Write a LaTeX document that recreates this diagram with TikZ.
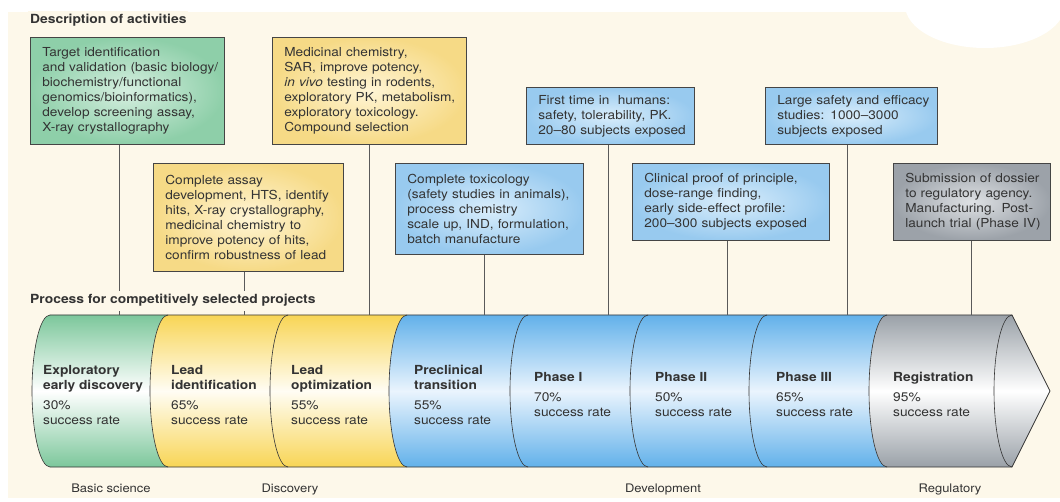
\documentclass[tikz,border=0pt]{standalone}
\usepackage{fontspec}
\setmainfont{TeX Gyre Heros}[FakeStretch=1.1]
\definecolor{cream}{HTML}{FDF8EA}
\definecolor{txt}{HTML}{333333}
\definecolor{boxline}{HTML}{454545}
\definecolor{connc}{HTML}{5A5A5A}
\definecolor{cylline}{HTML}{333333}
\definecolor{gin}{HTML}{D6EFE0}
\definecolor{gout}{HTML}{8ECFA9}
\definecolor{yin}{HTML}{FFF5D5}
\definecolor{yout}{HTML}{F6DA86}
\definecolor{bin}{HTML}{D9EDFB}
\definecolor{bout}{HTML}{98CAEF}
\definecolor{rin}{HTML}{DEE1E4}
\definecolor{rout}{HTML}{9CA2A9}
\definecolor{sgreen}{HTML}{7CC79B}
\definecolor{sgreenm}{HTML}{FFFFFF}
\definecolor{syellow}{HTML}{F8D555}
\definecolor{syellowm}{HTML}{FFFDF4}
\definecolor{sblue}{HTML}{62B1EA}
\definecolor{sbluem}{HTML}{EAF4FD}
\definecolor{sgrey}{HTML}{9AA1A8}
\begin{document}
\begin{tikzpicture}[x=1pt,y=1pt,
  box/.style={draw=boxline, line width=0.7pt, anchor=north west, inner xsep=12pt, inner ysep=0pt, align=left, text=txt, font=\fontsize{12.4}{15}\selectfont},
  gbox/.style={box, inner color=gin, outer color=gout},
  ybox/.style={box, inner color=yin, outer color=yout},
  bbox/.style={box, inner color=bin, outer color=bout},
  rbox/.style={box, inner color=rin, outer color=rout},
  conn/.style={draw=connc, line width=0.9pt},
  seglab/.style={anchor=north west, inner sep=0pt, align=left, text=txt, font=\fontsize{12.5}{15}\selectfont},
  head/.style={anchor=base west, inner xsep=2pt, inner ysep=4pt, fill=cream, text=txt, font=\bfseries\fontsize{12.6}{15}\selectfont},
  stage/.style={anchor=base, inner sep=0pt, text=txt, font=\fontsize{11.8}{14}\selectfont},
  outline/.style={draw=cylline, line width=0.8pt},
  sep/.style={draw=cylline, line width=0.6pt}
]
\useasboundingbox (0,0) rectangle (1060,501);
% background
\fill[white] (0,0) rectangle (1060,501);
\begin{scope}
\clip (0,0) rectangle (1060,501);
\fill[cream] (8,3) rectangle (1060,489);
\fill[white] (985,496) ellipse [x radius=80pt, y radius=43pt];
\end{scope}

% cylinder segments
\foreach \a/\b/\c/\m in {50/168/sgreen/sgreenm,168/288/syellow/syellowm,288/407/syellow/syellowm,407/528/sblue/sbluem,528/648/sblue/sbluem,648/767/sblue/sbluem,767/887/sblue/sbluem}{
  \shade[top color=\c, bottom color=\c, middle color=\m]
    (\a,186) -- (\b,186) arc[start angle=90,end angle=270,x radius=18pt,y radius=76pt]
    -- (\a,34) arc[start angle=270,end angle=90,x radius=18pt,y radius=76pt] -- cycle;
}
\shade[top color=sgrey, bottom color=sgrey, middle color=white]
  (887,186) -- (1012,186) -- (1050,110) -- (1012,34) -- (887,34)
  arc[start angle=270,end angle=90,x radius=18pt,y radius=76pt] -- cycle;
\draw[outline] (50,186) -- (1012,186) -- (1050,110) -- (1012,34) -- (50,34);
\foreach \a in {50,168,288,407,528,648,767,887,1012}{
  \draw[sep] (\a,186) arc[start angle=90,end angle=270,x radius=18pt,y radius=76pt];
}
\coordinate (ct) at (0,186);

% segment labels
\node[seglab] (s1) at (43,136) {\textbf{Exploratory}\\\textbf{early discovery}\\[5pt]30\%\\success rate};
\node[seglab] (s2) at (171,136) {\textbf{Lead}\\\textbf{identification}\\[5pt]65\%\\success rate};
\node[seglab] (s3) at (291,136) {\textbf{Lead}\\\textbf{optimization}\\[5pt]55\%\\success rate};
\node[seglab] (s4) at (414,136) {\textbf{Preclinical}\\\textbf{transition}\\[5pt]55\%\\success rate};
\node[seglab] (s5) at (534,129) {\textbf{Phase I}\\[5pt]70\%\\success rate};
\node[seglab] (s6) at (655,129) {\textbf{Phase II}\\[5pt]50\%\\success rate};
\node[seglab] (s7) at (776,129) {\textbf{Phase III}\\[5pt]65\%\\success rate};
\node[seglab] (s8) at (893,129) {\textbf{Registration}\\[5pt]95\%\\success rate};

% stage labels
\node[stage] (st1) at (111,9) {Basic science};
\node[stage] (st2) at (290,9) {Discovery};
\node[stage] (st3) at (663,9) {Development};
\node[stage] (st4) at (950,9) {Regulatory};

% activity boxes
\node[gbox, text width=170pt, minimum height=107pt] (b1) at (30,464) {\mbox{Target identification}\\\mbox{and validation (basic biology/}\\\mbox{biochemistry/functional}\\\mbox{genomics/bioinformatics),}\\\mbox{develop screening assay,}\\\mbox{X-ray crystallography}};
\node[ybox, text width=166pt, minimum height=108pt] (b2) at (153,338) {\mbox{Complete assay}\\\mbox{development, HTS, identify}\\\mbox{hits, X-ray crystallography,}\\\mbox{medicinal chemistry to}\\\mbox{improve potency of hits,}\\\mbox{confirm robustness of lead}};
\node[ybox, text width=170pt, minimum height=107pt] (b3) at (272,464) {\mbox{Medicinal chemistry,}\\\mbox{SAR, improve potency,}\\\mbox{\textit{in vivo} testing in rodents,}\\\mbox{exploratory PK, metabolism,}\\\mbox{exploratory toxicology.}\\\mbox{Compound selection}};
\node[bbox, text width=164pt, minimum height=91pt] (b4) at (395,338) {\mbox{Complete toxicology}\\\mbox{(safety studies in animals),}\\\mbox{process chemistry}\\\mbox{scale up, IND, formulation,}\\\mbox{batch manufacture}};
\node[bbox, text width=144pt, minimum height=57pt] (b5) at (526,414) {\mbox{First time in\ \ humans:}\\\mbox{safety, tolerability, PK.}\\\mbox{20–80 subjects exposed}};
\node[bbox, text width=173pt, minimum height=77pt] (b6) at (632,338) {\mbox{Clinical proof of principle,}\\\mbox{dose-range finding,}\\\mbox{early side-effect profile:}\\\mbox{200–300 subjects exposed}};
\node[bbox, text width=148pt, minimum height=57pt] (b7) at (765,414) {\mbox{Large safety and efficacy}\\\mbox{studies: 1000–3000}\\\mbox{subjects exposed}};
\node[rbox, text width=133pt, minimum height=77pt] (b8) at (893,338) {\mbox{Submission of dossier}\\\mbox{to regulatory agency.}\\\mbox{Manufacturing. Post-}\\\mbox{launch trial (Phase IV)}};

% connectors
\coordinate (b1c) at ([xshift=-8pt]b1.south);
\draw[conn] (b1c) -- (b1c |- ct);
\coordinate (b2c) at ([xshift=-4pt]b2.south);
\draw[conn] (b2c) -- (b2c |- ct);
\draw[conn] (b3.south) -- (b3.south |- ct);
\coordinate (b4c) at ([xshift=-5pt]b4.south);
\draw[conn] (b4c) -- (b4c |- ct);
\coordinate (b5c) at ([xshift=-2pt]b5.south);
\draw[conn] (b5c) -- (b5c |- ct);
\coordinate (b6c) at ([xshift=-3pt]b6.south);
\draw[conn] (b6c) -- (b6c |- ct);
\coordinate (b7c) at ([xshift=-4pt]b7.south);
\draw[conn] (b7c) -- (b7c |- ct);
\draw[conn] (b8.south) -- (b8.south |- ct);

% headings (on top of connectors)
\node[head] (h1) at (28,477) {Description of activities};
\node[head] (h2) at (28,197) {Process for competitively selected projects};
\end{tikzpicture}
\end{document}
